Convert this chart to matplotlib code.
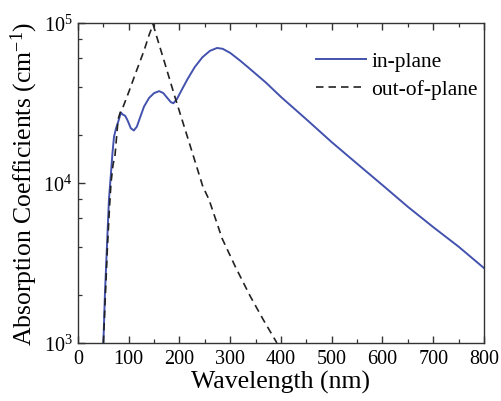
import matplotlib
matplotlib.use("Agg")
import matplotlib.pyplot as plt
from matplotlib.ticker import LogLocator, MultipleLocator, FixedLocator

plt.rcParams['font.family'] = ['Liberation Serif', 'DejaVu Serif']
plt.rcParams['mathtext.fontset'] = 'custom'
plt.rcParams['mathtext.rm'] = 'Liberation Serif'
plt.rcParams['mathtext.it'] = 'Liberation Serif:italic'

# In-plane absorption (wavelength nm, coefficient cm^-1)
wl_in = [50, 53, 57, 61, 64, 68, 71, 75, 79, 83, 85, 88, 93, 98, 104, 110, 116, 122,
         130, 140, 150, 160, 168, 176, 183, 188, 195, 205, 216, 230, 245, 260, 274,
         285, 300, 320, 339, 370, 400, 450, 500, 550, 600, 650, 700, 750, 800]
val_in = [1000, 2000, 4000, 7900, 10500, 15500, 19500, 22000, 24000, 26500, 27500,
          26800, 26300, 24500, 22000, 21300, 22500, 25500, 30000, 34000, 36500, 37500,
          36500, 34000, 32000, 31500, 33500, 38500, 44700, 53000, 61000, 67000, 69800,
          69000, 65000, 58000, 51600, 42500, 34500, 25000, 18000, 13200, 9700, 7100,
          5300, 4000, 2940]

# Out-of-plane absorption
wl_out = [50, 54, 58, 62, 65, 69, 73, 79, 83, 89, 100, 115, 130, 140, 148, 155, 170,
          191, 217, 246, 258, 284, 310, 339, 365, 392]
val_out = [1000, 2000, 4000, 7000, 10000, 13000, 15000, 25000, 27500, 30000, 37000,
           50000, 67000, 84000, 98000, 82400, 57500, 34500, 18800, 9500, 7900, 4500,
           3000, 1970, 1400, 1000]

x_ticks = [0, 100, 200, 300, 400, 500, 600, 700, 800]
y_ticks = [1e3, 1e4, 1e5]
y_labels = [r'$10^3$', r'$10^4$', r'$10^5$']

fig = plt.figure(figsize=(5.01, 4.02), dpi=100)
ax = fig.add_axes([0.1557, 0.1443, 0.966 - 0.1557, 0.9403 - 0.1443])

ax.plot(wl_in, val_in, color='#4352ae', lw=1.4, label='in-plane')
ax.plot(wl_out, val_out, color='#222222', lw=1.2, ls=(0, (4.5, 3)), label='out-of-plane')

ax.set_yscale('log')
ax.set_xlim(0, 800)
ax.set_ylim(1e3, 1e5)
ax.xaxis.set_major_locator(FixedLocator(x_ticks))
ax.xaxis.set_minor_locator(MultipleLocator(50))
ax.yaxis.set_major_locator(FixedLocator(y_ticks))
ax.set_yticklabels(y_labels)
ax.yaxis.set_minor_locator(LogLocator(base=10, subs=[2, 4, 6, 8]))
ax.yaxis.set_minor_formatter(plt.NullFormatter())

ax.tick_params(which='both', direction='in', top=True, right=False, labelsize=14.5,
               color='#333333', pad=4)
ax.tick_params(which='major', length=5, width=1)
ax.tick_params(which='minor', length=3, width=0.9)
for s in ax.spines.values():
    s.set_color('#333333')
    s.set_linewidth(1.0)

ax.set_xlabel('Wavelength (nm)', fontsize=18.5, labelpad=2)
ax.set_ylabel(r'Absorption Coefficients (cm$^{\mathregular{-1}}$)', fontsize=18.5, labelpad=2)

leg = ax.legend(loc='upper right', bbox_to_anchor=(0.985, 0.912), frameon=False,
                fontsize=15.5, handlelength=2.3, handletextpad=0.25, borderaxespad=0,
                borderpad=0, labelspacing=0.38)

fig.savefig('out.png', dpi=100)
